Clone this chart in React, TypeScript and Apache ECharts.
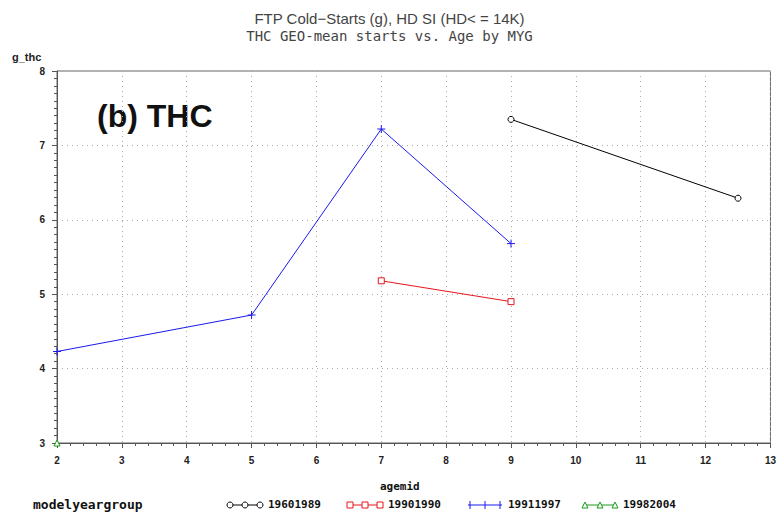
import React, { useEffect, useRef } from "react";
import * as echarts from "echarts";

const titleLine1 = "FTP Cold\u2212Starts (g), HD SI (HD< = 14K)";
const titleLine2 = "THC GEO-mean starts vs. Age by MYG";
const panelLabel = "(b) THC";
const yName = "g_thc";
const xName = "agemid";
const legendTitle = "modelyeargroup";

const groups = ["19601989", "19901990", "19911997", "19982004"];
const colors = ["#000000", "#e8141b", "#1a1aee", "#1b9a1b"];

const s19601989: [number, number][] = [[9, 7.35], [12.5, 6.29]];
const s19901990: [number, number][] = [[7, 5.18], [9, 4.9]];
const s19911997: [number, number][] = [[2, 4.23], [5, 4.72], [7, 7.22], [9, 5.68]];
const s19982004: [number, number][] = [[2, 3.0]];

const plusPath = "path://M0,5 L10,5 M5,0 L5,10";
const mono = "'DejaVu Sans Mono', monospace";

export default function App() {
  const ref = useRef<HTMLDivElement>(null);
  useEffect(() => {
    if (!ref.current) return;
    const chart = echarts.init(ref.current, null, { renderer: "svg" });
    const data = [s19601989, s19901990, s19911997, s19982004];
    const symbols = ["circle", "rect", plusPath, "triangle"];
    const series = data.map((d, i) => ({
      name: groups[i],
      type: "line",
      data: d,
      clip: false,
      symbol: symbols[i],
      symbolSize: i === 2 ? 8 : 6,
      showSymbol: true,
      z: 5,
      lineStyle: { color: colors[i], width: 1 },
      itemStyle:
        i === 2
          ? { color: "none", borderColor: colors[i], borderWidth: 1 }
          : { color: "#ffffff", borderColor: colors[i], borderWidth: 1 },
    }));

    const legendX = [228, 348, 468, 583];
    const legendGraphics: any[] = [];
    legendGraphics.push({
      type: "text",
      left: 33,
      top: 498,
      style: { text: legendTitle, font: `bold 13px ${mono}`, fill: "#111" },
    });
    legendX.forEach((x, i) => {
      const y = 505;
      legendGraphics.push({
        type: "line",
        shape: { x1: x, y1: y, x2: x + 34, y2: y },
        style: { stroke: colors[i], lineWidth: 1 },
      });
      [x + 2, x + 17, x + 32].forEach((cx) => {
        if (i === 0) {
          legendGraphics.push({ type: "circle", shape: { cx, cy: y, r: 3 }, style: { fill: "#fff", stroke: colors[i] } });
        } else if (i === 1) {
          legendGraphics.push({ type: "rect", shape: { x: cx - 3, y: y - 3, width: 6, height: 6 }, style: { fill: "#fff", stroke: colors[i] } });
        } else if (i === 2) {
          legendGraphics.push({ type: "line", shape: { x1: cx, y1: y - 4, x2: cx, y2: y + 4 }, style: { stroke: colors[i] } });
        } else {
          legendGraphics.push({ type: "polygon", shape: { points: [[cx, y - 3], [cx - 3, y + 3], [cx + 3, y + 3]] }, style: { fill: "#fff", stroke: colors[i] } });
        }
      });
      legendGraphics.push({
        type: "text",
        left: x + 40,
        top: 499,
        style: { text: groups[i], font: `bold 11px ${mono}`, fill: "#111" },
      });
    });

    chart.setOption({
      animation: false,
      backgroundColor: "#ffffff",
      title: [
        {
          text: titleLine1,
          left: "center",
          top: 6,
          textStyle: { fontFamily: "'Liberation Sans', Arial", fontSize: 15, fontWeight: "normal", color: "#444" },
        },
        {
          text: titleLine2,
          left: "center",
          top: 24,
          textStyle: { fontFamily: mono, fontSize: 14, fontWeight: "normal", color: "#444" },
        },
      ],
      grid: { left: 57, right: 8, top: 71, bottom: 70, show: true, borderColor: "#666", borderWidth: 1 },
      xAxis: {
        type: "value",
        min: 2,
        max: 13,
        interval: 1,
        axisLine: { show: true, lineStyle: { color: "#555" } },
        axisTick: { show: true, length: 5, lineStyle: { color: "#555" } },
        minorTick: { show: true, splitNumber: 5, length: 3, lineStyle: { color: "#555" } },
        splitLine: { show: true, lineStyle: { color: "#aaa", type: [1, 4] } },
        axisLabel: { fontFamily: "'Liberation Sans', Arial", fontWeight: "bold", fontSize: 10, color: "#222", margin: 12 },
      },
      yAxis: {
        type: "value",
        min: 3,
        max: 8,
        interval: 1,
        axisLine: { show: true, lineStyle: { color: "#555" } },
        axisTick: { show: true, length: 5, lineStyle: { color: "#555" } },
        minorTick: { show: true, splitNumber: 10, length: 3, lineStyle: { color: "#555" } },
        splitLine: { show: true, lineStyle: { color: "#aaa", type: [1, 4] } },
        axisLabel: { fontFamily: "'Liberation Sans', Arial", fontWeight: "bold", fontSize: 10, color: "#222", margin: 12 },
      },
      series,
      graphic: [
        {
          type: "text",
          left: 97,
          top: 100,
          style: { text: panelLabel, font: "bold 32px 'Liberation Sans', Arial", fill: "#111" },
        },
        {
          type: "text",
          left: 12,
          top: 51,
          style: { text: yName, font: "bold 11px 'Liberation Sans', Arial", fill: "#222" },
        },
        {
          type: "text",
          left: 380,
          top: 481,
          style: { text: xName, font: `bold 11px ${mono}`, fill: "#111" },
        },
        ...legendGraphics,
      ],
    });
    return () => chart.dispose();
  }, []);
  return <div ref={ref} style={{ width: 779, height: 513, position: "absolute", left: 0, top: 0 }} />;
}
